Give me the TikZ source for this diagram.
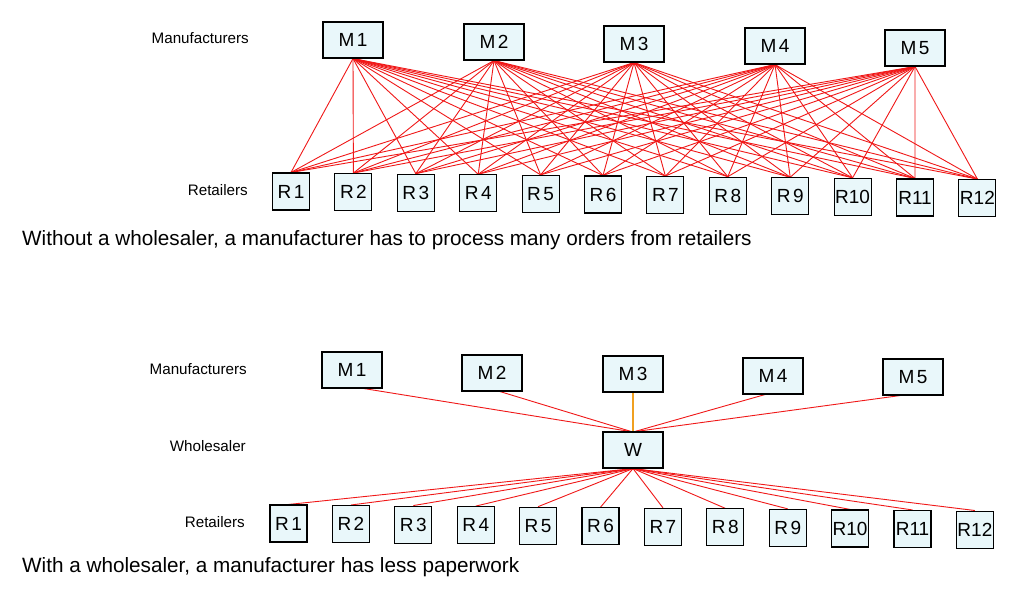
\documentclass[tikz,border=0pt]{standalone}
\usepackage{fontspec}
\setmainfont{Liberation Sans}
\definecolor{boxfill}{HTML}{E9F7FA}
\definecolor{linkred}{HTML}{F01818}
\definecolor{linkorange}{HTML}{F0A020}
\pgfdeclarelayer{paper}
\pgfdeclarelayer{links}
\pgfsetlayers{paper,links,main}
\newcommand{\boxlab}[2]{\ifnum#2>9 #1#2\else #1\hspace{2.5pt}#2\fi}
\begin{document}
\begin{tikzpicture}[x=1pt,y=-1pt,
  mbox/.style={draw=black,line width=1.1pt,fill=boxfill,minimum width=60pt,minimum height=36pt,inner sep=0pt,font=\fontsize{19}{19}\selectfont},
  rbox/.style={draw=black,line width=1.1pt,fill=boxfill,minimum width=37pt,minimum height=37pt,inner sep=0pt,font=\fontsize{19}{19}\selectfont},
  lbl/.style={anchor=east,inner sep=0pt,font=\fontsize{15.2}{15.2}\selectfont},
  captxt/.style={anchor=west,inner sep=0pt,font=\fontsize{20.7}{20.7}\selectfont},
  link/.style={draw=linkred,line width=0.9pt}]
\begin{pgfonlayer}{paper}
\fill[white] (0,0) rectangle (1035,600);
\end{pgfonlayer}
\useasboundingbox (0,0) rectangle (1035,600);

% ---------- top diagram ----------
\node[lbl] (tman) at (249,38) {Manufacturers};
\node[lbl] (tret) at (248,190) {Retailers};
\foreach \i/\x/\y in {1/353/40,2/494/42,3/634/44,4/775/46,5/915/48}
  \node[mbox] (tm\i) at (\x,\y) {\boxlab{M}{\i}};
\foreach \i in {1,...,12}{
  \pgfmathsetmacro{\rx}{291+62.4*(\i-1)}
  \pgfmathsetmacro{\ry}{191.5+0.6*(\i-1)}
  \node[rbox] (tr\i) at (\rx,\ry) {\boxlab{R}{\i}};
}
\begin{pgfonlayer}{links}
\foreach \m in {1,...,5}
  \foreach \r in {1,...,12}
    \draw[link] (tm\m.south) -- (tr\r.north);
\end{pgfonlayer}
\node[captxt] (cap1) at (22,240) {Without a wholesaler, a manufacturer has to process many orders from retailers};

% ---------- bottom diagram ----------
\node[lbl] (bman) at (247,369) {Manufacturers};
\node[lbl] (bwho) at (246,446) {Wholesaler};
\node[lbl] (bret) at (245,522) {Retailers};
\foreach \i/\x/\y in {1/352/370,2/492/373,3/633/374,4/773/376,5/913/377}
  \node[mbox] (bm\i) at (\x,\y) {\boxlab{M}{\i}};
\node[mbox] (w) at (633,450) {W};
\foreach \i in {1,...,12}{
  \pgfmathsetmacro{\rx}{288.5+62.4*(\i-1)}
  \pgfmathsetmacro{\ry}{523.5+0.55*(\i-1)}
  \node[rbox] (br\i) at (\rx,\ry) {\boxlab{R}{\i}};
}
\begin{pgfonlayer}{links}
\draw[link] ([xshift=12pt]bm1.south) -- ([xshift=-3pt]w.north);
\draw[link] ([xshift=8pt]bm2.south) -- ([xshift=-2pt]w.north);
\draw[draw=linkorange,line width=1.2pt] (bm3.south) -- (w.north);
\draw[link] ([xshift=-8pt]bm4.south) -- ([xshift=2pt]w.north);
\draw[link] ([xshift=-13pt]bm5.south) -- ([xshift=3pt]w.north);
\foreach \r in {1,...,12}
  \draw[link] (w.south) -- (br\r.north);
\end{pgfonlayer}
\node[captxt] (cap2) at (22,567) {With a wholesaler, a manufacturer has less paperwork};
\end{tikzpicture}
\end{document}
